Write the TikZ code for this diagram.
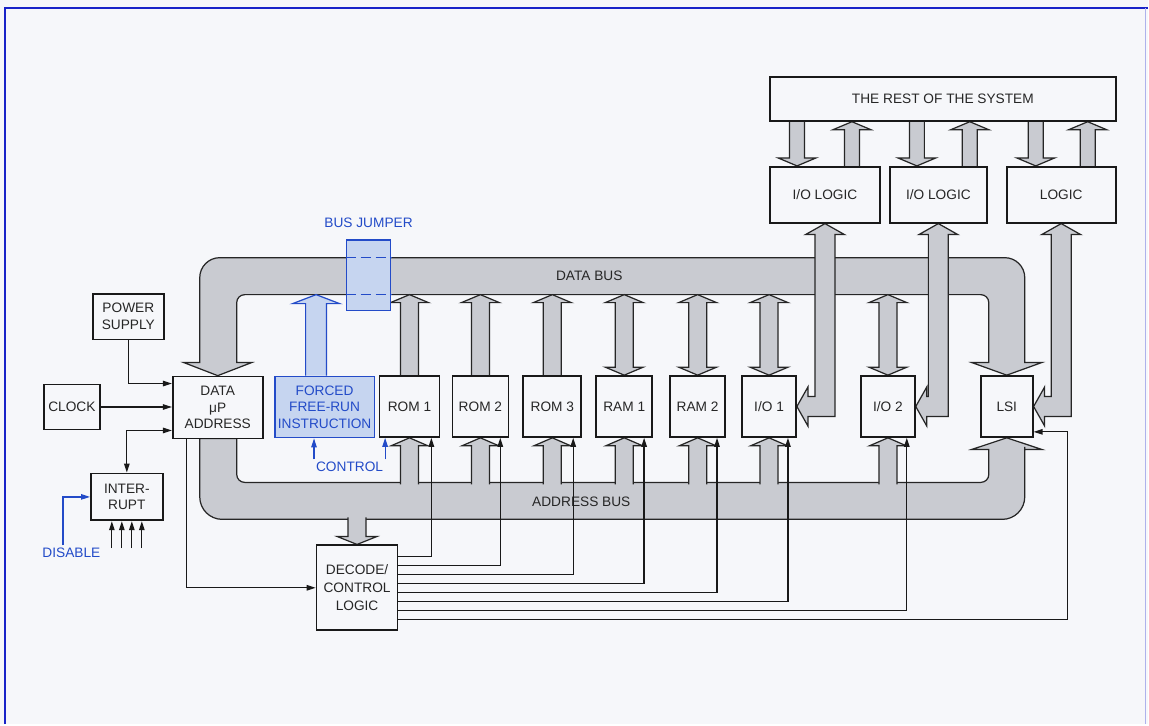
\documentclass[tikz,border=0pt]{standalone}
\usepackage{fontspec}
\setmainfont{Liberation Sans}
\usetikzlibrary{calc, arrows.meta, backgrounds}

\definecolor{paper}{RGB}{246,247,250}
\definecolor{busgray}{RGB}{201,203,209}
\definecolor{jblue}{RGB}{35,75,200}
\definecolor{jfill}{RGB}{198,213,240}
\definecolor{frameblue}{RGB}{25,35,200}

\begin{document}
\begin{tikzpicture}[x=0.2mm, y=0.2mm,
    font=\fontsize{7.8}{9.5}\selectfont,
    box/.style={draw=black!90, line width=1pt, fill=paper, text=black!85, align=center, inner sep=0pt},
    module/.style={box, minimum height=12.2mm},
    logicbox/.style={box, minimum height=11.2mm},
    bluebox/.style={box, draw=jblue, fill=jfill, text=jblue},
    bus/.style={draw=black!85, fill=busgray, line width=0.7pt, line join=miter},
    bluebus/.style={bus, draw=jblue, fill=jfill},
    sig/.style={draw=black!90, line width=0.7pt, -{Triangle[length=1.8mm, width=1.1mm]}},
    dsig/.style={sig, {Triangle[length=1.8mm, width=1.1mm]}-{Triangle[length=1.8mm, width=1.1mm]}},
    bluesig/.style={sig, draw=jblue},
    note/.style={inner sep=1pt, text=black!85},
    bluenote/.style={inner sep=1pt, text=jblue}
]

% Hollow bus arrow, open at its tail
% Arguments: style, tail, tip, half shaft, half head, head length
\def\hollowarrow#1#2#3#4#5#6{
    \coordinate (hb) at ($#3!#6!#2$);
    \fill[#1, draw=none] ($#2!#4!90:#3$) -- ($(hb)!#4!90:#3$) -- ($(hb)!#5!90:#3$) -- #3
        -- ($(hb)!#5!-90:#3$) -- ($(hb)!#4!-90:#3$) -- ($#2!#4!-90:#3$) -- cycle;
    \draw[#1, fill=none] ($#2!#4!90:#3$) -- ($(hb)!#4!90:#3$) -- ($(hb)!#5!90:#3$) -- #3
        -- ($(hb)!#5!-90:#3$) -- ($(hb)!#4!-90:#3$) -- ($#2!#4!-90:#3$);
}

% Hollow bus arrow with a head at both ends
\def\hollowboth#1#2#3#4#5#6{
    \coordinate (ha) at ($#2!#6!#3$);
    \coordinate (hb) at ($#3!#6!#2$);
    \filldraw[#1] #2 -- ($(ha)!#5!90:#3$) -- ($(ha)!#4!90:#3$) -- ($(hb)!#4!90:#3$) -- ($(hb)!#5!90:#3$) -- #3
        -- ($(hb)!#5!-90:#3$) -- ($(hb)!#4!-90:#3$) -- ($(ha)!#4!-90:#3$) -- ($(ha)!#5!-90:#3$) -- cycle;
}

% Bent bus arrow: horizontal tip #1, vertical tip #2 above
\def\bentarrow#1#2{
    \filldraw[bus] let \p1=#1, \p2=#2 in
        (\p1) -- (\x1+2.2mm,\y1+3.9mm) -- (\x1+2.2mm,\y1+2mm) -- (\x2-2mm,\y1+2mm)
        -- (\x2-2mm,\y2-2.2mm) -- (\x2-3.9mm,\y2-2.2mm) -- (\p2) -- (\x2+3.9mm,\y2-2.2mm)
        -- (\x2+2mm,\y2-2.2mm) -- (\x2+2mm,\y1-2mm) -- (\x1+2.2mm,\y1-2mm) -- (\x1+2.2mm,\y1-3.9mm) -- cycle;
}

% Bus edges
\coordinate (dbusT) at (0,-258);
\coordinate (dbusB) at (0,-295);
\coordinate (abusIn) at (0,-485);
\coordinate (abusOut) at (0,-518);

% Rest of the system
\node[box, minimum width=69.2mm, minimum height=8.8mm] (rest) at (944,-99) {THE REST OF THE SYSTEM};
\node[logicbox, minimum width=22mm] (iol1) at (826,-195) {I/O LOGIC};
\node[logicbox, minimum width=19.4mm] (iol2) at (939.5,-195) {I/O LOGIC};
\node[logicbox, minimum width=21.8mm] (logic) at (1062.5,-195) {LOGIC};

% Processor side
\node[box, minimum width=14.2mm, minimum height=9.2mm] (psu) at (128.5,-317) {POWER\\SUPPLY};
\node[box, minimum width=11.2mm, minimum height=9mm] (clk) at (72,-407.5) {CLOCK};
\node[box, minimum width=18mm, minimum height=12.4mm] (cpu) at (218,-408) {DATA\\μP\\ADDRESS};
\node[box, minimum width=14.4mm, minimum height=9.4mm] (intr) at (127,-497.5) {INTER-\\RUPT};
\node[box, minimum width=16.2mm, minimum height=17mm, font=\fontsize{7.8}{10.3}\selectfont] (dec) at (357.5,-588.5) {DECODE/\\CONTROL\\LOGIC};

% Forced free-run instruction and bus jumper
\node[bluebox, minimum width=20mm, minimum height=12.2mm] (ffr) at (325,-407.5) {FORCED\\FREE-RUN\\INSTRUCTION};
\node[bluebox, minimum width=8.8mm, minimum height=14.2mm] (jmp) at (369,-275.5) {};
\coordinate (ffrTop) at ([xshift=-1.7mm]ffr.north);

% Memory and I/O modules
\foreach \n/\x/\w/\t in {rom1/410/12/{ROM 1}, rom2/481/11.2/{ROM 2}, rom3/553/11.6/{ROM 3},
        ram1/625/11.2/{RAM 1}, ram2/698.5/11/{RAM 2}, io1/770/10.8/{I/O 1}, io2/889/10.8/{I/O 2}, lsi/1008/10.4/LSI}
    \node[module, minimum width=\w mm] (\n) at (\x,-407) {\t};

\begin{pgfonlayer}{background}
    % Page and frame
    \fill[paper] (0,0) rectangle (1149,-725);
    \draw[frameblue, line width=1.6pt] (5,-725) -- (5,-8) -- (1149,-8);
    \draw[frameblue!35, line width=0.8pt] (1147,-8) -- (1147,-725);

    % Data bus
    \filldraw[bus] (cpu.north) -- (252,-363) -- (237,-363) -- (237,-330) [rounded corners=1.6mm] -- (237,-295)
        -- (990,-295) -- (990,-330) [sharp corners] -- (990,-363) -- (973,-363) -- (lsi.north) -- (1043,-363)
        -- (1026,-363) -- (1026,-320) [rounded corners=4mm] -- (1026,-258) -- (200,-258) -- (200,-320)
        [sharp corners] -- (200,-363) -- (184,-363) -- cycle;

    % Address bus
    \filldraw[bus] (200,-439) -- (200,-470) [rounded corners=4.5mm] -- (200,-520) -- (1026,-520) -- (1026,-470)
        [sharp corners] -- (1026,-450) -- (1043,-450) -- (lsi.south) -- (973,-450) -- (990,-450) -- (990,-465)
        [rounded corners=1.6mm] -- (990,-483) -- (237,-483) -- (237,-465) [sharp corners] -- (237,-439) -- cycle;

    % Data bus branches
    \foreach \m in {rom1,rom2,rom3} {\hollowarrow{bus}{(\m.north)}{(\m.north |- dbusB)}{1.8mm}{3.8mm}{1.6mm}}
    \foreach \m in {ram1,ram2,io1,io2} {\hollowboth{bus}{(\m.north)}{(\m.north |- dbusB)}{1.8mm}{3.8mm}{1.6mm}}

    % Address bus branches
    \foreach \m in {rom1,rom2,rom3,ram1,ram2,io1,io2} {\hollowarrow{bus}{(\m.south |- abusIn)}{(\m.south)}{1.8mm}{3.7mm}{1.6mm}}
    \hollowarrow{bus}{(dec.north |- abusOut)}{(dec.north)}{1.8mm}{4mm}{1.6mm}

    % Forced instruction onto the data bus
    \hollowarrow{bluebus}{(ffrTop)}{(ffrTop |- dbusB)}{2.1mm}{4.7mm}{1.8mm}

    % Links to the rest of the system
    \foreach \xd/\xu/\b in {798/853/iol1, 918/971/iol2, 1037/1089/logic} {
        \hollowarrow{bus}{(rest.south -| \xd,0)}{(\b.north -| \xd,0)}{1.5mm}{3.8mm}{1.6mm}
        \hollowarrow{bus}{(\b.north -| \xu,0)}{(rest.south -| \xu,0)}{1.5mm}{3.8mm}{1.6mm}
    }

    % I/O to logic
    \bentarrow{(io1.east)}{(iol1.south)}
    \bentarrow{(io2.east)}{(iol2.south)}
    \bentarrow{(lsi.east)}{(logic.south)}
\end{pgfonlayer}

% Jumper edges over the data bus
\draw[jblue, line width=0.7pt, dash pattern=on 2mm off 1mm] (jmp.west |- dbusT) -- (jmp.east |- dbusT);
\draw[jblue, line width=0.7pt, dash pattern=on 2mm off 1mm] (jmp.west |- dbusB) -- (jmp.east |- dbusB);

% Labels
\node[bluenote] (bj) at (369,-223) {BUS JUMPER};
\node[note] (db) at (590,-276) {DATA BUS};
\node[note] (ab) at (582,-502) {ADDRESS BUS};
\node[bluenote] (ctl) at (350,-467) {CONTROL};
\node[bluenote] (dis) at (71.5,-553) {DISABLE};

% Processor signals
\draw[sig] (psu.south) |- ([yshift=4.8mm]cpu.west);
\draw[sig] (clk.east) -- (cpu.west |- clk.east);
\draw[dsig] ([yshift=-4.6mm]cpu.west) -| (intr.north);
\draw[sig] ([xshift=-6.2mm]cpu.south) |- (dec.west);
\foreach \dx in {-15,-5,5,15} \draw[sig] ($(intr.south)+(\dx,-27)$) -- ($(intr.south)+(\dx,0)$);

% Blue control inputs
\draw[bluesig] ([xshift=-1.7mm]dis.north) |- (intr.west);
\draw[bluesig] (ctl.north west) -- (ctl.north west |- ffr.south);
\draw[bluesig] (ctl.north east) -- (ctl.north east |- rom1.south);

% Select lines from decode
\foreach \m [count=\i from 0] in {rom1,rom2,rom3,ram1,ram2,io1,io2}
    \draw[sig] ($(dec.east)+(0,31.5-9*\i)$) -| ([xshift=-1.8mm]\m.south east);
\draw[sig] ($(dec.east)+(0,-31.5)$) -| ([xshift=6.8mm,yshift=1.2mm]lsi.south east) -- ([yshift=1.2mm]lsi.south east);

\end{tikzpicture}
\end{document}
